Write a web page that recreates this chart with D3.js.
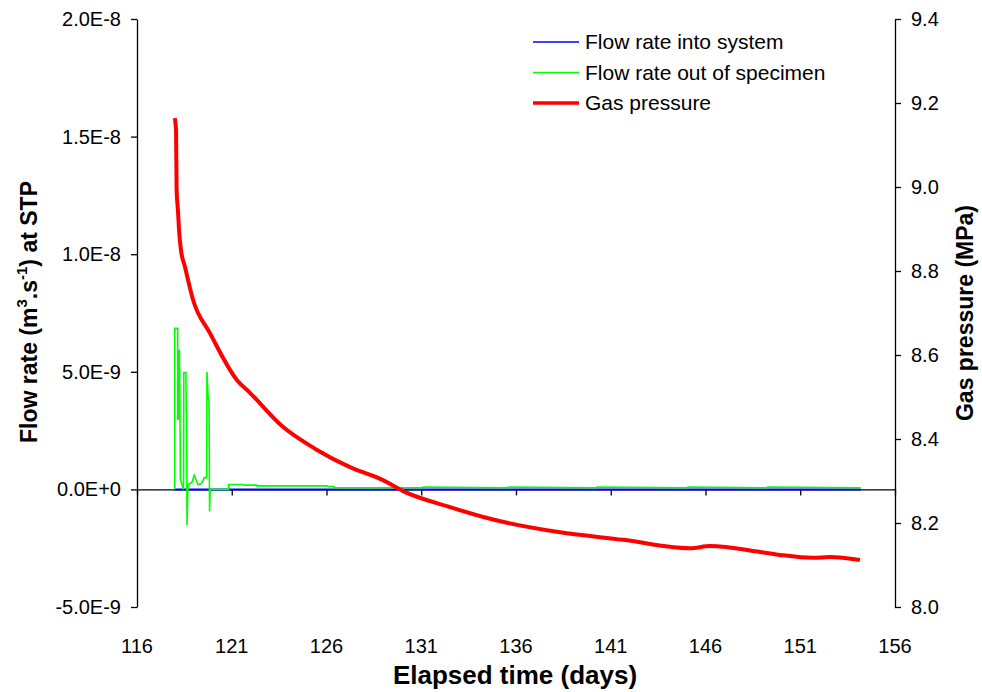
<!DOCTYPE html>
<html>
<head>
<meta charset="utf-8">
<script src="https://cdn.jsdelivr.net/npm/d3@7"></script>
<style>
  body { margin: 0; background: #fff; }
  text { font-family: "Liberation Sans", Arial, sans-serif; }
</style>
</head>
<body>
<div id="chart"></div>
<script>
// axis ticks
var dayTicks = [116, 121, 126, 131, 136, 141, 146, 151, 156];
var flowTicks = [-5e-9, 0, 5e-9, 1e-8, 1.5e-8, 2e-8];
var flowTickLabels = ["-5.0E-9", "0.0E+0", "5.0E-9", "1.0E-8", "1.5E-8", "2.0E-8"];
var pressureTicks = [8.0, 8.2, 8.4, 8.6, 8.8, 9.0, 9.2, 9.4];
var pressureTickLabels = ["8.0", "8.2", "8.4", "8.6", "8.8", "9.0", "9.2", "9.4"];

// flow rate into system
var inflowDays = [117.95, 154.2];
var inflowValues = [0, 0];

// flow rate out of specimen (m3/s)
var outflowDays = [117.99, 117.99, 118.15, 118.15, 118.20, 118.20, 118.24, 118.27, 118.29, 118.44, 118.46, 118.47,
  118.58, 118.60, 118.62, 118.64, 118.69, 118.90, 119.02, 119.12, 119.22, 119.40, 119.55, 119.68, 119.69, 119.76,
  119.80, 119.83, 119.86, 120.84, 120.84, 121.6, 121.7, 122.3, 122.3, 126.0, 126.1, 126.4, 126.4, 131.0, 131.1,
  135.5, 135.6, 140.2, 140.3, 145.0, 145.1, 149.2, 149.3, 154.2];
var outflowValues = [0, 6.85e-9, 6.85e-9, 3.0e-9, 3.0e-9, 5.9e-9, 5.9e-9, 3.0e-9, 0.45e-9, 0, 0.3e-9, 4.97e-9,
  4.97e-9, 3.3e-9, 3.3e-9, -1.53e-9, 0.2e-9, 0.3e-9, 0.6e-9, 0.4e-9, 0.2e-9, 0.25e-9, 0.5e-9, 0.5e-9, 5.0e-9, 3.8e-9,
  3.8e-9, -0.94e-9, 0, 0, 0.21e-9, 0.21e-9, 0.18e-9, 0.18e-9, 0.15e-9, 0.15e-9, 0.12e-9, 0.12e-9, 0.07e-9, 0.07e-9, 0.1e-9,
  0.07e-9, 0.1e-9, 0.07e-9, 0.1e-9, 0.07e-9, 0.1e-9, 0.07e-9, 0.1e-9, 0.07e-9];

// gas pressure (MPa)
var pressureDays = [117.99, 118.06, 118.09, 118.16, 118.23, 118.32, 118.53, 118.96, 119.85, 121.28, 121.96, 123.70,
  125.50, 127.24, 128.98, 130.04, 132.52, 134.63, 138.16, 141.65, 145.18, 146.24, 148.88, 149.93, 151.67, 152.57, 154.15];
var pressureValues = [9.164, 9.136, 8.993, 8.945, 8.890, 8.850, 8.810, 8.731, 8.652, 8.540, 8.510, 8.429,
  8.374, 8.333, 8.302, 8.276, 8.238, 8.210, 8.179, 8.160, 8.140, 8.145, 8.131, 8.124, 8.117, 8.119, 8.112];

var width = 982, height = 692;
var plotLeft = 137, plotRight = 895, plotTop = 19, plotBottom = 607;

var svg = d3.select('#chart').append('svg')
  .attr('width', width)
  .attr('height', height);

var x = d3.scaleLinear().domain([116, 156]).range([plotLeft, plotRight]);
var yFlow = d3.scaleLinear().domain([-5e-9, 2e-8]).range([plotBottom, plotTop]);
var yPres = d3.scaleLinear().domain([8.0, 9.4]).range([plotBottom, plotTop]);

// left axis
var leftAxis = svg.append('g')
  .attr('transform', 'translate(' + plotLeft + ',0)')
  .call(d3.axisLeft(yFlow).tickValues(flowTicks).tickSize(6).tickSizeOuter(0)
    .tickFormat(function(d, i) { return flowTickLabels[i]; }));

// right axis
var rightAxis = svg.append('g')
  .attr('transform', 'translate(' + plotRight + ',0)')
  .call(d3.axisRight(yPres).tickValues(pressureTicks).tickSize(6).tickSizeOuter(0)
    .tickFormat(function(d, i) { return pressureTickLabels[i]; }));

// x axis at zero flow, labels at bottom
var xAxis = svg.append('g')
  .attr('transform', 'translate(0,' + yFlow(0) + ')')
  .call(d3.axisBottom(x).tickValues(dayTicks).tickSize(6).tickSizeOuter(0).tickFormat(''));

svg.selectAll('text.xtick')
  .data(dayTicks)
  .enter()
  .append('text')
    .attr('class', 'xtick')
    .attr('x', function(d) { return x(d); })
    .attr('y', 653)
    .attr('text-anchor', 'middle')
    .attr('font-size', 20)
    .text(function(d) { return d; });

[leftAxis, rightAxis, xAxis].forEach(function(g) {
  g.selectAll('.domain').attr('stroke', '#000').attr('stroke-width', 1.3);
  g.selectAll('.tick line').attr('stroke', '#000').attr('stroke-width', 1.3);
  g.selectAll('.tick text')
    .attr('font-family', '"Liberation Sans", Arial, sans-serif')
    .attr('font-size', 20)
    .attr('fill', '#000');
});
leftAxis.selectAll('.tick text').attr('x', -16);
rightAxis.selectAll('.tick text').attr('x', 16);

// lines
var flowLine = d3.line()
  .x(function(d) { return x(d[0]); })
  .y(function(d) { return yFlow(d[1]); });
var presLine = d3.line()
  .x(function(d) { return x(d[0]); })
  .y(function(d) { return yPres(d[1]); })
  .curve(d3.curveMonotoneX);

svg.append('path')
  .datum(d3.zip(inflowDays, inflowValues))
  .attr('d', flowLine)
  .attr('fill', 'none')
  .attr('stroke', '#0000ff')
  .attr('stroke-width', 2);

svg.append('path')
  .datum(d3.zip(outflowDays, outflowValues))
  .attr('d', flowLine)
  .attr('fill', 'none')
  .attr('stroke', '#00ff00')
  .attr('stroke-width', 1.6);

svg.append('path')
  .datum(d3.zip(pressureDays, pressureValues))
  .attr('d', presLine)
  .attr('fill', 'none')
  .attr('stroke', '#ff0000')
  .attr('stroke-width', 4);

// legend
var legend = [
  { name: 'Flow rate into system', color: '#0000ff', w: 1.5 },
  { name: 'Flow rate out of specimen', color: '#00ff00', w: 1.5 },
  { name: 'Gas pressure', color: '#ff0000', w: 3.5 }
];
var lg = svg.selectAll('g.legend')
  .data(legend)
  .enter()
  .append('g')
    .attr('class', 'legend')
    .attr('transform', function(d, i) { return 'translate(533,' + (42 + i * 30.5) + ')'; });
lg.append('line')
  .attr('x1', 0).attr('x2', 46)
  .attr('stroke', function(d) { return d.color; })
  .attr('stroke-width', function(d) { return d.w; });
lg.append('text')
  .attr('x', 52)
  .attr('y', 7)
  .attr('font-size', 21)
  .text(function(d) { return d.name; });

// axis titles
svg.append('text')
  .attr('x', 515)
  .attr('y', 684)
  .attr('text-anchor', 'middle')
  .attr('font-size', 26)
  .attr('font-weight', 'bold')
  .text('Elapsed time (days)');

var lt = svg.append('text')
  .attr('transform', 'translate(37,312) rotate(-90)')
  .attr('text-anchor', 'middle')
  .attr('font-size', 23)
  .attr('font-weight', 'bold');
lt.append('tspan').text('Flow rate (m');
lt.append('tspan').attr('dy', -10).attr('font-size', 15).text('3');
lt.append('tspan').attr('dy', 10).text('.s');
lt.append('tspan').attr('dy', -10).attr('font-size', 15).text('-1');
lt.append('tspan').attr('dy', 10).text(') at STP');

svg.append('text')
  .attr('transform', 'translate(973,313) rotate(-90)')
  .attr('text-anchor', 'middle')
  .attr('font-size', 23)
  .attr('font-weight', 'bold')
  .text('Gas pressure (MPa)');
</script>
</body>
</html>
